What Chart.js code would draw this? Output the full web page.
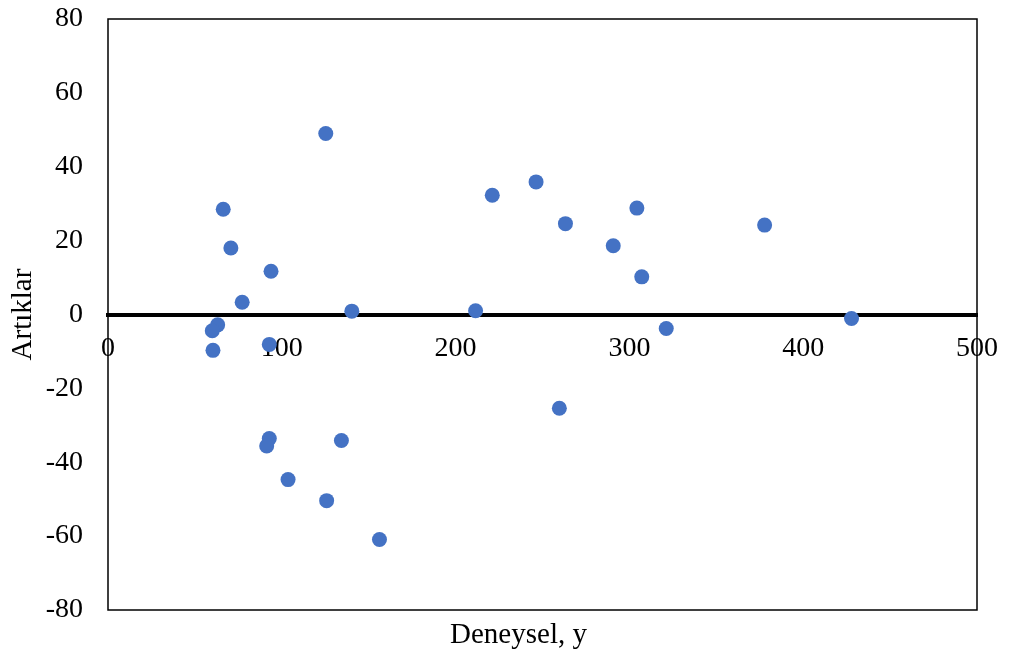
<!DOCTYPE html>
<html>
<head>
<meta charset="utf-8">
<script src="https://cdn.jsdelivr.net/npm/chart.js@4/dist/chart.umd.min.js"></script>
<style>
  html, body { margin: 0; padding: 0; background: #fff; }
  #wrap { width: 1009px; height: 657px; }
</style>
</head>
<body>
<div id="wrap"><canvas id="residChart"></canvas></div>
<script>
// Deneysel (x) ve artıklar (y)
var deneysel = [125.3, 66.3, 70.7, 93.8, 77.2, 63.1, 60.0, 60.4, 92.8, 140.3,
	92.8, 91.3, 134.3, 103.6, 125.8, 156.2, 221.1, 246.3, 263.2, 290.7,
	304.3, 307.1, 211.5, 321.2, 259.7, 377.8, 427.8];
var artiklar = [49.0, 28.5, 18.0, 11.7, 3.3, -2.8, -4.4, -9.7, -8.1, 0.9,
	-33.6, -35.6, -34.1, -44.7, -50.4, -60.9, 32.3, 35.9, 24.6, 18.6,
	28.8, 10.2, 1.0, -3.8, -25.4, 24.2, -1.1];

var xTicks = [0, 100, 200, 300, 400, 500];
var yTicks = [-80, -60, -40, -20, 0, 20, 40, 60, 80];

var points = deneysel.map(function (x, i) {
	return { x: x, y: artiklar[i] };
});

var serif = "'Liberation Serif', 'Times New Roman', serif";

// scales should not push the plot area around, layout padding does that
function noPad(s) {
	s.paddingTop = 0;
	s.paddingBottom = 0;
	s.paddingLeft = 0;
	s.paddingRight = 0;
}

// outer box around the plot area, and the x title sits a bit left of centre
var frame = {
	id: 'frame',
	afterLayout: function (chart) {
		var s = chart.scales.x2;
		s.left -= 24;
		s.right -= 24;
	},
	beforeDatasetsDraw: function (chart) {
		var a = chart.chartArea, c = chart.ctx;
		c.save();
		c.strokeStyle = '#000';
		c.lineWidth = 1.5;
		c.strokeRect(a.left, a.top, a.right - a.left, a.bottom - a.top);
		c.restore();
	}
};

var ctx = document.getElementById("residChart").getContext("2d");
var chart = new Chart(ctx, {
	type: 'scatter',
	data: {
		datasets: [{
			label: 'Artıklar',
			data: points,
			backgroundColor: '#4472C4',
			borderColor: '#4472C4',
			pointRadius: 7.5,
			pointHoverRadius: 7.5,
			borderWidth: 0
		}]
	},
	plugins: [frame],
	options: {
		responsive: true,
		maintainAspectRatio: false,
		animation: false,
		layout: { padding: { left: 0, right: 32, top: 19, bottom: 0 } },
		plugins: {
			legend: { display: false },
			tooltip: { enabled: false }
		},
		scales: {
			x: {
				type: 'linear',
				position: { y: 0 },
				min: 0,
				max: 500,
				afterBuildTicks: function (s) {
					s.ticks = xTicks.map(function (v) { return { value: v }; });
				},
				grid: { display: false, drawTicks: false },
				border: { display: true, color: '#000', width: 4 },
				ticks: {
					color: '#000',
					padding: 17,
					maxRotation: 0,
					font: { family: serif, size: 28 }
				},
				afterFit: noPad
			},
			x2: {
				type: 'linear',
				position: 'bottom',
				min: 0,
				max: 500,
				grid: { display: false, drawTicks: false },
				border: { display: false },
				ticks: { display: false },
				title: {
					display: true,
					text: 'Deneysel, y',
					color: '#000',
					padding: { top: 0, bottom: 4 },
					font: { family: serif, size: 29 }
				},
				afterFit: function (s) { noPad(s); s.height = 47; }
			},
			y: {
				type: 'linear',
				min: -80,
				max: 80,
				afterBuildTicks: function (s) {
					s.ticks = yTicks.map(function (v) { return { value: v }; });
				},
				grid: { display: false, drawTicks: false },
				border: { display: false },
				ticks: {
					color: '#000',
					padding: 25,
					font: { family: serif, size: 28 }
				},
				title: {
					display: true,
					text: 'Artıklar',
					color: '#000',
					padding: { top: 6, bottom: 0 },
					font: { family: serif, size: 29 }
				},
				afterFit: function (s) { noPad(s); s.width = 108; }
			}
		}
	}
});
</script>
</body>
</html>
